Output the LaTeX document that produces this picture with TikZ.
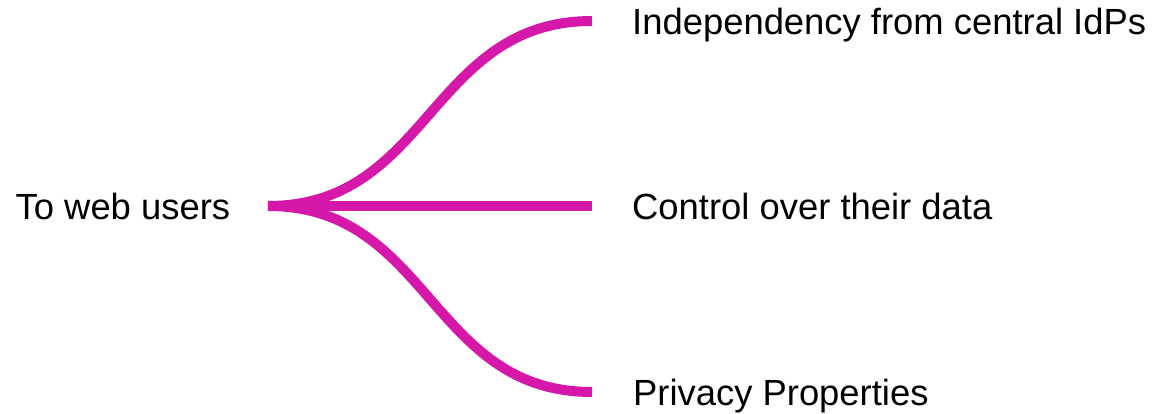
\documentclass[tikz,border=0pt]{standalone}
\usepackage{fontspec}
\setmainfont{Liberation Sans}
\definecolor{branchmagenta}{RGB}{214,24,170}
\begin{document}
\begin{tikzpicture}[x=1pt,y=-1pt,
  label/.style={anchor=base west,inner sep=0pt,font=\fontsize{36.4}{44}\selectfont,text=black},
  branch/.style={draw=branchmagenta,line width=10pt,line cap=butt}]
  \useasboundingbox (0,0) rectangle (1152,414);

  % root label and the point where the branches fan out
  \node[label] (root) at (15.5,220) {To web users};
  \coordinate (hub) at (268,206);

  % branch end points
  \coordinate (endA) at (592,21);
  \coordinate (endB) at (592,206);
  \coordinate (endC) at (592,392);

  % leaf labels
  \node[label] (leafA) at (632,35) {Independency from central IdPs};
  \node[label] (leafB) at (632,220) {Control over their data};
  \node[label] (leafC) at (633,405) {Privacy Properties};

  % branches
  \draw[branch] (hub) .. controls (430,206) and (430,21) .. (endA);
  \draw[branch] (hub) -- (endB);
  \draw[branch] (hub) .. controls (430,206) and (430,392) .. (endC);
\end{tikzpicture}
\end{document}
